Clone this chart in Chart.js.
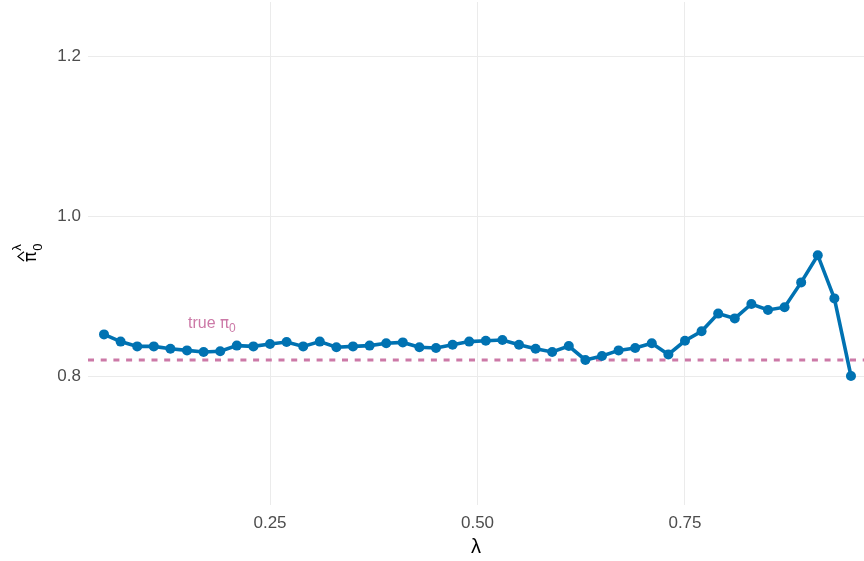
<!DOCTYPE html>
<html>
<head>
<meta charset="utf-8">
<script src="https://cdn.jsdelivr.net/npm/chart.js@4.4.1/dist/chart.umd.min.js"></script>
<style>
  html, body { margin: 0; padding: 0; background: #fff; }
  #wrap { width: 864px; height: 561px; }
</style>
</head>
<body>
<div id="wrap"><canvas id="pi0Chart" width="864" height="561"></canvas></div>
<script>
// λ grid and the estimated π0 at each λ
const lambdaValues = [0.05,0.07,0.09,0.11,0.13,0.15,0.17,0.19,0.21,0.23,0.25,0.27,0.29,0.31,0.33,0.35,0.37,0.39,0.41,0.43,0.45,0.47,0.49,0.51,0.53,0.55,0.57,0.59,0.61,0.63,0.65,0.67,0.69,0.71,0.73,0.75,0.77,0.79,0.81,0.83,0.85,0.87,0.89,0.91,0.93,0.95];
const pi0Estimates = [0.852,0.843,0.837,0.837,0.834,0.832,0.830,0.831,0.838,0.837,0.840,0.8425,0.837,0.843,0.836,0.837,0.838,0.841,0.842,0.836,0.835,0.839,0.843,0.844,0.845,0.839,0.834,0.830,0.8375,0.820,0.825,0.832,0.835,0.841,0.827,0.844,0.856,0.878,0.872,0.890,0.8825,0.886,0.917,0.951,0.897,0.800];
const truePi0 = 0.82;
const xTicks = [0.25, 0.50, 0.75];
const yTicks = [0.8, 1.0, 1.2];
const xRange = [0.0307, 0.9657];
const yRange = [0.63875, 1.2675];
const labelPos = { x: 0.18, y: 0.866 };

const blue = '#0072B2';
const pink = '#CC79A7';
const gridCol = '#ebebeb';
const FONT = '"Liberation Sans", Arial, Helvetica, sans-serif';
const SYM = '"DejaVu Sans", sans-serif';

// no extra room for tick labels, panel must fill the canvas like the original
function noPad(s) {
    s.paddingTop = 0; s.paddingBottom = 0; s.paddingLeft = 0; s.paddingRight = 0;
}

// annotation "true π0" and the rotated y title π̂0^λ
const extrasPlugin = {
    id: 'extras',
    afterDatasetsDraw(chart) {
        const ctx = chart.ctx;
        const xs = chart.scales.x, ys = chart.scales.y;
        ctx.save();
        ctx.fillStyle = pink;
        ctx.textBaseline = 'alphabetic';
        const t1 = 'true ', t2 = 'π';
        ctx.font = '16px ' + FONT;
        const w1 = ctx.measureText(t1).width;
        ctx.font = '15px ' + SYM;
        const w2 = ctx.measureText(t2).width;
        ctx.font = '12px ' + FONT;
        const w3 = ctx.measureText('0').width;
        const total = w1 + w2 + w3;
        let px = xs.getPixelForValue(labelPos.x) - total / 2;
        const py = ys.getPixelForValue(labelPos.y) + 5;
        ctx.font = '16px ' + FONT;
        ctx.fillText(t1, px, py); px += w1;
        ctx.font = '15px ' + SYM;
        ctx.fillText(t2, px, py); px += w2;
        ctx.font = '12px ' + FONT;
        ctx.fillText('0', px, py + 4);
        ctx.restore();
    },
    afterDraw(chart) {
        const ctx = chart.ctx;
        ctx.save();
        ctx.translate(36, 262);
        ctx.rotate(-Math.PI / 2);
        ctx.fillStyle = '#000';
        ctx.strokeStyle = '#000';
        ctx.textBaseline = 'alphabetic';
        ctx.font = '17px ' + SYM;
        ctx.fillText('π', 0, 0);
        const pw = ctx.measureText('π').width;
        ctx.font = '13px ' + FONT;
        ctx.fillText('0', pw + 1, 6);
        ctx.fillText('λ', pw + 1, -15);
        ctx.lineWidth = 1.2;
        ctx.beginPath();
        ctx.moveTo(1, -12);
        ctx.lineTo(pw / 2 + 0.5, -18);
        ctx.lineTo(pw, -12);
        ctx.stroke();
        ctx.restore();
    }
};

new Chart(document.getElementById('pi0Chart').getContext('2d'), {
    type: 'line',
    data: {
        datasets: [
            {
                data: lambdaValues.map((l, i) => ({ x: l, y: pi0Estimates[i] })),
                borderColor: blue, backgroundColor: blue,
                borderWidth: 3.6, pointRadius: 5, pointBorderWidth: 0,
                pointBackgroundColor: blue, tension: 0
            },
            {
                data: [{ x: xRange[0], y: truePi0 }, { x: xRange[1], y: truePi0 }],
                borderColor: pink, borderWidth: 3.2, borderDash: [6, 6.7],
                pointRadius: 0, tension: 0
            }
        ]
    },
    options: {
        responsive: false, animation: false, devicePixelRatio: 1,
        layout: { autoPadding: false, padding: { top: 2, right: 0, left: 0, bottom: 0 } },
        plugins: { legend: { display: false }, tooltip: { enabled: false } },
        scales: {
            x: {
                type: 'linear', min: xRange[0], max: xRange[1],
                border: { display: false },
                grid: { color: gridCol, lineWidth: 1, drawTicks: false },
                afterBuildTicks: s => { s.ticks = xTicks.map(v => ({ value: v })); },
                afterFit: s => { s.height = 56; noPad(s); },
                ticks: { padding: 8, color: '#4d4d4d', font: { family: FONT, size: 17 }, callback: v => v.toFixed(2) },
                title: { display: true, text: 'λ', color: '#000', font: { family: FONT, size: 20 }, padding: { top: 0, bottom: 2 } }
            },
            y: {
                min: yRange[0], max: yRange[1],
                border: { display: false },
                grid: { color: gridCol, lineWidth: 1, drawTicks: false },
                afterBuildTicks: s => { s.ticks = yTicks.map(v => ({ value: v })); },
                afterFit: s => { s.width = 88; noPad(s); },
                ticks: { padding: 7, color: '#4d4d4d', font: { family: FONT, size: 17 }, callback: v => v.toFixed(1) }
            }
        }
    },
    plugins: [extrasPlugin]
});
</script>
</body>
</html>
